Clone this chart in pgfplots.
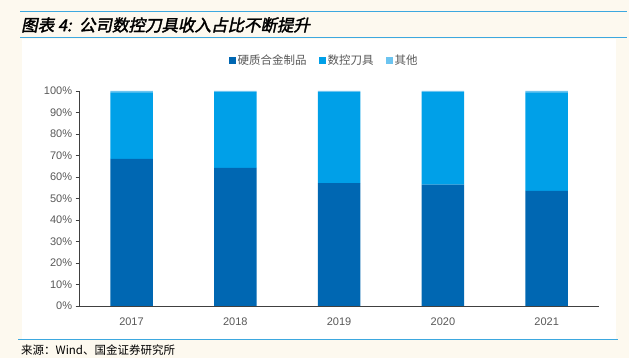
\documentclass[border=0pt]{standalone}
\usepackage{pgfplots}
\pgfplotsset{compat=1.18}
\usepackage{fontspec}
\setmainfont{Liberation Sans}
\newfontfamily\cjk{Noto Sans CJK SC}
\newfontfamily\cjkt[FakeSlant=0.2,FakeBold=2]{Noto Sans CJK SC}
\definecolor{bg}{HTML}{FDF9EF}
\definecolor{cA}{HTML}{0067B2}
\definecolor{cB}{HTML}{00A0E8}
\definecolor{cC}{HTML}{6CC4F0}
\definecolor{lineblue}{HTML}{3DA8DF}
\definecolor{txt}{HTML}{595959}
\definecolor{ax}{HTML}{404040}
\begin{document}
\begin{tikzpicture}[x=1pt,y=1pt]
\useasboundingbox (0,0) rectangle (629,358);
\fill[bg] (0,0) rectangle (629,358);
\fill[white] (22,19) rectangle (616,319);
\draw[lineblue,line width=1pt] (20,346) -- (627,346);
\draw[lineblue,line width=1pt] (20,320) -- (627,320);
\draw[lineblue,line width=1pt] (18,18.5) -- (618,18.5);
\node[anchor=west,inner sep=0pt,font=\fontsize{16.5}{18}\selectfont\cjkt] at (21,333) {图表 4:\ \ 公司数控刀具收入占比不断提升};
\node[anchor=west,inner sep=0pt,font=\fontsize{11.5}{13}\selectfont\cjk] at (21,8) {来源：Wind、国金证券研究所};
\begin{axis}[
  at={(79.6pt,52pt)}, anchor=south west,
  scale only axis, width=519pt, height=215pt,
  xmin=-0.5, xmax=4.5, ymin=0, ymax=100,
  ybar stacked, bar width=42.5pt, bar shift=0pt,
  axis x line=bottom, axis y line=left,
  axis line style={-,draw=ax,line width=0.8pt},
  xtick={0,1,2,3,4},
  xticklabels={2017,2018,2019,2020,2021},
  x tick style={draw=none},
  extra x ticks={0.5,1.5,2.5,3.5,4.5},
  extra x tick labels={},
  extra x tick style={major tick length=4pt, tick align=inside, tick style={draw=ax,line width=0.8pt}},
  ytick={0,10,...,100},
  yticklabel={\pgfmathprintnumber{\tick}\%},
  y tick style={draw=ax,line width=0.8pt},
  tick align=outside, major tick length=4pt,
  ticklabel style={font=\fontsize{11}{13}\selectfont, text=txt},
  xticklabel style={yshift=-4pt},
  /pgf/number format/assume math mode=true,
  legend columns=3,
  legend style={at={(0.471,1.144)}, anchor=center, draw=none, fill=none,
    font=\fontsize{11.5}{13}\selectfont\cjk, text=txt,
    /tikz/every even column/.append style={column sep=10pt},
    inner sep=0pt},
  legend image code/.code={\fill[#1,draw=none] (0pt,-3.5pt) rectangle (7pt,3.5pt);},
]
\addplot[fill=cA,draw=none] coordinates {(0,68.4) (1,64.2) (2,57.2) (3,56.4) (4,53.6)};
\addplot[fill=cB,draw=none] coordinates {(0,31.0) (1,35.3) (2,42.3) (3,43.1) (4,45.8)};
\addplot[fill=cC,draw=none] coordinates {(0,0.6) (1,0.5) (2,0.5) (3,0.5) (4,0.6)};
\legend{硬质合金制品,数控刀具,其他}
\end{axis}
\end{tikzpicture}
\end{document}
